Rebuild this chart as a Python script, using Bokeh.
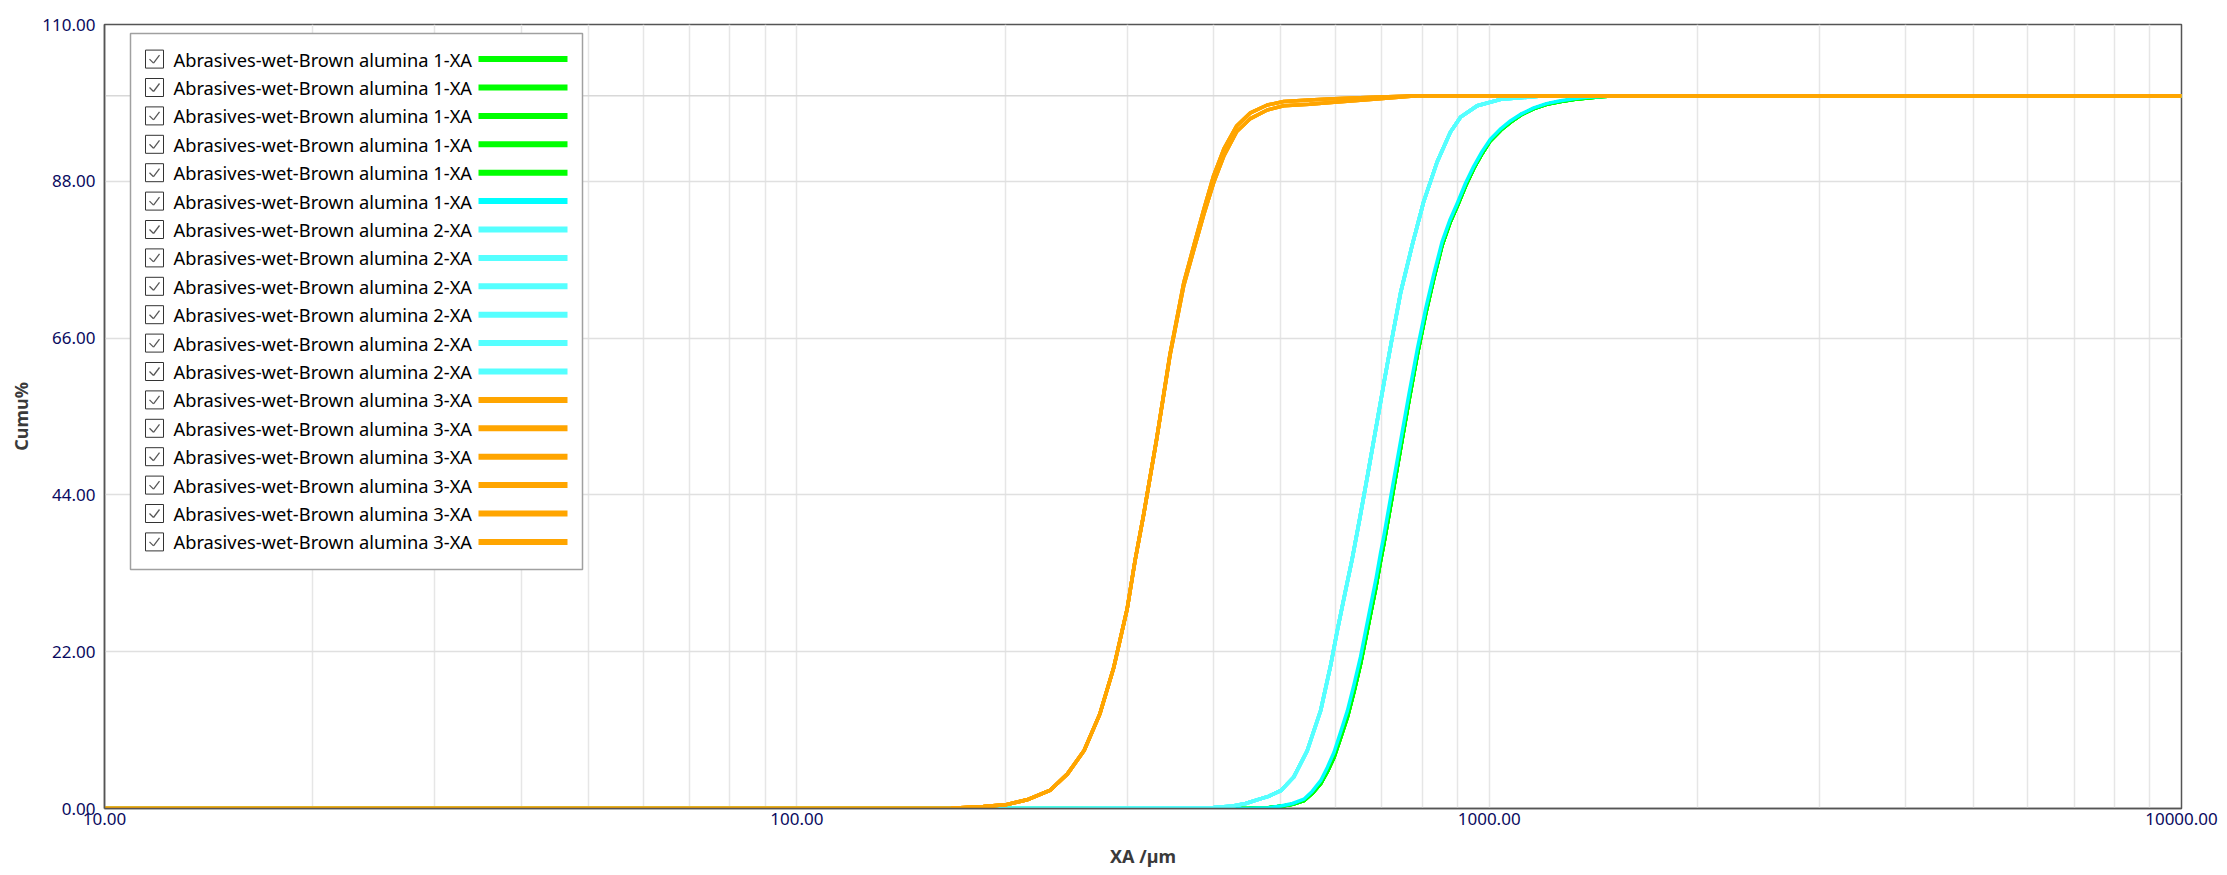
from bokeh.plotting import figure
from bokeh.models import (Range1d, FixedTicker, PrintfTickFormatter, Span,
                          BoxAnnotation, Label, Arrow)
from bokeh.embed import file_html
from bokeh.resources import INLINE

# ---------------- data ----------------
sizes1 = [10, 300, 450, 480, 500, 520, 540, 555, 571, 584, 597, 610, 624, 638,
          652, 663, 674, 686, 697, 705, 725, 745, 766, 788, 810, 832, 855, 877,
          900, 925, 950, 977, 1004, 1040, 1074, 1115, 1160, 1210, 1268, 1330,
          1386, 1460, 1531, 10000]
cum1_green = [0, 0, 0.02, 0.1, 0.3, 0.6, 1.1, 2.1, 3.5, 5.2, 7.2, 9.9, 12.8, 16.4,
              20.3, 23.8, 27.3, 31.0, 34.8, 37.3, 44.0, 50.6, 57.3, 63.8, 69.5,
              74.4, 79.0, 82.1, 84.6, 87.4, 89.8, 91.9, 93.7, 95.2, 96.3, 97.4,
              98.2, 98.8, 99.2, 99.5, 99.7, 99.9, 100, 100]
cum1_cyan = [0, 0, 0.02, 0.1, 0.35, 0.7, 1.3, 2.4, 3.9, 5.8, 7.9, 10.7, 13.7, 17.4,
             21.3, 24.9, 28.4, 32.1, 35.9, 38.4, 45.1, 51.6, 58.2, 64.6, 70.2,
             75.0, 79.5, 82.5, 85.0, 87.8, 90.1, 92.2, 93.9, 95.4, 96.5, 97.5,
             98.3, 98.9, 99.3, 99.6, 99.8, 99.9, 100, 100]

sizes2 = [10, 250, 350, 400, 423, 445, 462, 480, 500, 522, 546, 571, 590, 603,
          620, 634, 650, 667, 686, 705, 725, 745, 774, 804, 841, 879, 909, 961,
          1039, 1135, 1200, 10000]
cum2 = [0, 0, 0.05, 0.15, 0.3, 0.7, 1.2, 1.7, 2.5, 4.4, 8.1, 13.75, 20.0, 24.8,
        30.5, 35.0, 40.6, 46.6, 53.3, 59.8, 66.3, 72.4, 79.0, 85.1, 90.7, 94.9,
        97.0, 98.6, 99.5, 99.8, 100, 100]

sizes3 = [10, 140, 167, 186, 200, 215, 232, 246, 260, 274, 287, 300, 308, 317,
          331, 346, 362, 375, 387, 400, 414, 432, 452, 478, 505, 550, 597, 680,
          787, 10000]
cum3_a = [0, 0, 0.05, 0.28, 0.51, 1.22, 2.53, 4.86, 8.14, 13.28, 19.83, 28.0,
          34.8, 41.3, 51.9, 63.8, 73.7, 79.2, 84.0, 88.8, 92.6, 95.8, 97.6, 98.7,
          99.2, 99.4, 99.6, 99.8, 100, 100]
cum3_b = [0, 0, 0.05, 0.28, 0.51, 1.22, 2.53, 4.86, 8.14, 13.28, 19.83, 28.0,
          34.8, 41.3, 51.9, 63.6, 73.3, 78.6, 83.3, 87.8, 91.6, 95.0, 96.8, 98.0,
          98.6, 98.8, 99.1, 99.5, 100, 100]

series_labels = (["Abrasives-wet-Brown alumina 1-XA"] * 6 +
                 ["Abrasives-wet-Brown alumina 2-XA"] * 6 +
                 ["Abrasives-wet-Brown alumina 3-XA"] * 6)
series_colors = (["#00ff00"] * 5 + ["#00ffff"] + ["#55ffff"] * 6 + ["#ffa500"] * 6)
series_sizes = [sizes1] * 6 + [sizes2] * 6 + [sizes3] * 6
series_values = ([cum1_green] * 5 + [cum1_cyan] + [cum2] * 6 +
                 [cum3_a, cum3_b, cum3_a, cum3_b, cum3_a, cum3_b])

x_ticks = [10, 100, 1000, 10000]
x_minor = [20, 30, 40, 50, 60, 70, 80, 90, 200, 300, 400, 500, 600, 700, 800, 900,
           2000, 3000, 4000, 5000, 6000, 7000, 8000, 9000]
y_ticks = [0, 22, 44, 66, 88, 110]

# ---------------- figure ----------------
TICK_COLOR = "#0a0a60"
FONT = "Noto Sans"

p = figure(width=2219, height=871, x_axis_type="log",
           x_range=Range1d(10, 10000), y_range=Range1d(0, 110),
           output_backend="svg", toolbar_location=None,
           min_border_left=104, min_border_right=38,
           min_border_top=24, min_border_bottom=63)
p.background_fill_color = "white"
p.border_fill_color = "white"
p.outline_line_color = "#555555"
p.outline_line_width = 1.5

p.xaxis.ticker = FixedTicker(ticks=x_ticks, minor_ticks=x_minor)
p.yaxis.ticker = FixedTicker(ticks=y_ticks)
p.xaxis.formatter = PrintfTickFormatter(format="%.2f")
p.yaxis.formatter = PrintfTickFormatter(format="%.2f")

for ax in (p.xaxis, p.yaxis):
    ax.major_tick_out = 0
    ax.major_tick_in = 0
    ax.minor_tick_out = 0
    ax.minor_tick_in = 0
    ax.axis_line_color = "#555555"
    ax.axis_line_width = 1.5
    ax.major_label_text_color = TICK_COLOR
    ax.major_label_text_font = FONT
    ax.major_label_text_font_size = "17px"
    ax.axis_label_text_font = FONT
    ax.axis_label_text_font_size = "18px"
    ax.axis_label_text_font_style = "bold"
    ax.axis_label_text_color = "#3a3a3a"

p.xaxis.axis_label = "XA /µm"
p.yaxis.axis_label = "Cumu%"
p.xaxis.major_label_standoff = 4
p.xaxis.axis_label_standoff = 16
p.yaxis.major_label_standoff = 9
p.yaxis.axis_label_standoff = 6

p.xgrid.grid_line_color = "#e6e6e6"
p.xgrid.grid_line_width = 1.5
p.xgrid.minor_grid_line_color = "#e6e6e6"
p.xgrid.minor_grid_line_width = 1.5
p.ygrid.grid_line_color = "#e0e0e0"
p.ygrid.grid_line_width = 1.5

p.add_layout(Span(location=100, dimension="width", line_color="#d8d8d8",
                  line_width=1.5, level="underlay"))

for xs, ys, col in zip(series_sizes, series_values, series_colors):
    p.line(xs, ys, line_color=col, line_width=3.5, line_join="round")

# ---------------- custom legend (checkbox, text, coloured bar) ----------------
def fx(px):
    return 10 ** (1 + (px - 104) / 692.33)

def fy(py):
    return (808 - py) / 7.1273

p.add_layout(BoxAnnotation(left=fx(130), right=fx(582), top=fy(33), bottom=fy(569),
                           fill_color="white", fill_alpha=1.0,
                           line_color="#a0a0a0", line_width=1.5, line_alpha=1.0))

for i, (lab, col) in enumerate(zip(series_labels, series_colors)):
    yc = 58.6 + 28.4 * i
    p.add_layout(BoxAnnotation(left=fx(145), right=fx(163), top=fy(yc - 9), bottom=fy(yc + 9),
                               fill_color="white", fill_alpha=1.0,
                               line_color="#333333", line_width=1, line_alpha=1.0))
    p.add_layout(Arrow(end=None, x_start=fx(149), y_start=fy(yc), x_end=fx(153), y_end=fy(yc + 4),
                       line_color="#555555", line_width=1.3))
    p.add_layout(Arrow(end=None, x_start=fx(153), y_start=fy(yc + 4), x_end=fx(159), y_end=fy(yc - 4),
                       line_color="#555555", line_width=1.3))
    p.add_layout(Label(x=fx(173), y=fy(yc), text=lab, text_baseline="middle",
                       text_align="left", text_font=FONT, text_font_size="18.3px",
                       text_color="#000000"))
    p.add_layout(BoxAnnotation(left=fx(478), right=fx(567), top=fy(yc - 3), bottom=fy(yc + 3),
                               fill_color=col, fill_alpha=1.0, line_color=None))

open("out.html", "w").write(file_html(p, INLINE))
